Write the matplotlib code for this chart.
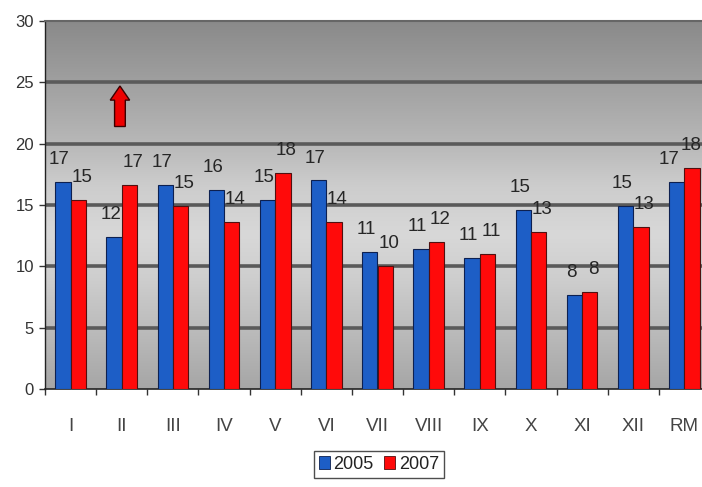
import numpy as np
import matplotlib
matplotlib.use("Agg")
import matplotlib.pyplot as plt
from matplotlib.colors import LinearSegmentedColormap
from matplotlib.patches import Patch, FancyArrow

plt.rcParams['font.family'] = ['Liberation Sans Narrow', 'Liberation Sans', 'DejaVu Sans']

categories = ["I", "II", "III", "IV", "V", "VI", "VII", "VIII", "IX", "X", "XI", "XII", "RM"]
values_2005 = [16.9, 12.4, 16.6, 16.2, 15.4, 17.0, 11.2, 11.4, 10.7, 14.6, 7.7, 14.9, 16.9]
values_2007 = [15.4, 16.6, 14.9, 13.6, 17.6, 13.6, 10.0, 12.0, 11.0, 12.8, 7.9, 13.2, 18.0]
series_names = ["2005", "2007"]
y_ticks = [0, 5, 10, 15, 20, 25, 30]

W, H = 702, 487
fig = plt.figure(figsize=(W / 100, H / 100), dpi=100)
fig.patch.set_facecolor("white")
left, right, top, bottom = 45, 710, 21, 389
ax = fig.add_axes([left / W, (H - bottom) / H, (right - left) / W, (bottom - top) / H])

n = len(categories)
x = np.arange(n)
ax.set_xlim(-0.5, n - 0.5)
ax.set_ylim(0, 30)

# vertical grey gradient behind the plot
stops = [(0.0, "#a6a6a6"), (0.15, "#bababa"), (0.3, "#cecece"), (0.42, "#d8d8d8"),
         (0.55, "#cdcdcd"), (0.68, "#b6b6b6"), (0.84, "#9f9f9f"), (1.0, "#8a8a8a")]
cmap = LinearSegmentedColormap.from_list("bg", stops)
grad = np.linspace(0, 1, 256).reshape(-1, 1)
ax.imshow(grad, cmap=cmap, aspect="auto", origin="lower",
          extent=[-0.5, n - 0.5, 0, 30], zorder=0)

for yv in y_ticks[1:-1]:
    ax.axhline(yv, color="#5a5a5a", lw=2.6, zorder=1)

bw = 0.3
blue, red = "#1d5ec6", "#ff0a0a"
b1 = ax.bar(x - bw / 2, values_2005, bw, color=blue, edgecolor="#0d2050", lw=0.8, zorder=3)
b2 = ax.bar(x + bw / 2, values_2007, bw, color=red, edgecolor="#501010", lw=0.8, zorder=3)

for bars, vals, dx in ((b1, values_2005, -2.5), (b2, values_2007, 2.5)):
    for i, (rect, v) in enumerate(zip(bars, vals)):
        shift = dx
        if i == n - 1:
            # keep the last pair of labels inside the figure
            shift = dx - 3.0
        ax.annotate(f"{v:.0f}", (rect.get_x() + rect.get_width() / 2, v),
                    xytext=(shift, 10), textcoords="offset points",
                    ha="center", va="bottom", fontsize=13.5, color="#262626", zorder=4)

# red arrow above February
ax.add_patch(FancyArrow(0.965, 21.4, 0, 3.3, width=0.21, head_width=0.38,
                        head_length=1.15, length_includes_head=True,
                        facecolor="#ee0000", edgecolor="#3a0000", lw=1.0, zorder=4))

ax.set_yticks(y_ticks)
ax.set_yticklabels([str(t) for t in y_ticks], fontsize=12, color="#333333")
ax.set_xticks(x)
ax.set_xticklabels(categories, fontsize=13.5, color="#444444")
ax.set_xticks(np.arange(-0.5, n, 1.0), minor=True)
ax.tick_params(axis="x", which="major", length=0, pad=21)
ax.tick_params(axis="x", which="minor", length=4, width=1, color="#333333", direction="out")
ax.tick_params(axis="y", length=4, width=1, color="#333333", direction="out", pad=4)

ax.spines["right"].set_visible(False)
ax.spines["top"].set_color("#666666")
ax.spines["top"].set_linewidth(1.5)
ax.spines["left"].set_color("#222222")
ax.spines["bottom"].set_color("#222222")
ax.spines["left"].set_linewidth(1.0)
ax.spines["bottom"].set_linewidth(1.2)

handles = [Patch(facecolor=blue, edgecolor="#0d2050", lw=0.6),
           Patch(facecolor=red, edgecolor="#501010", lw=0.6)]
leg = fig.legend(handles, series_names, loc="center", bbox_to_anchor=(379 / W, (H - 464.5) / H),
                 ncol=2, fontsize=13, frameon=True, fancybox=False, handlelength=0.6,
                 handleheight=0.7, handletextpad=0.2, columnspacing=0.6, borderpad=0.3,
                 borderaxespad=0)
leg.get_frame().set_edgecolor("#222222")
leg.get_frame().set_linewidth(1.0)
for t in leg.get_texts():
    t.set_color("#222222")

fig.savefig("out.png", dpi=100)
